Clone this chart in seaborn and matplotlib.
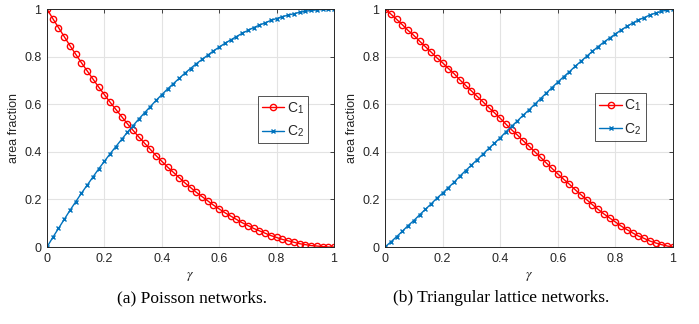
import matplotlib
matplotlib.use("Agg")
import matplotlib.pyplot as plt
import seaborn as sns
import numpy as np
import pandas as pd

sns.set_theme(style="white")
plt.rcParams['font.family'] = ['Liberation Sans', 'DejaVu Sans']
plt.rcParams['mathtext.fontset'] = 'stix'

gamma = [round(0.02 * i, 2) for i in range(51)]

poisson_c1 = [1.000, 0.960, 0.922, 0.884, 0.846, 0.810, 0.774, 0.740, 0.706, 0.672,
              0.640, 0.608, 0.578, 0.548, 0.518, 0.490, 0.462, 0.436, 0.410, 0.384,
              0.360, 0.336, 0.314, 0.292, 0.270, 0.250, 0.230, 0.212, 0.194, 0.176,
              0.160, 0.144, 0.130, 0.116, 0.102, 0.090, 0.078, 0.068, 0.058, 0.048,
              0.040, 0.032, 0.026, 0.020, 0.014, 0.010, 0.006, 0.004, 0.002, 0.000,
              0.000]
poisson_c2 = [0.000, 0.040, 0.078, 0.116, 0.154, 0.190, 0.226, 0.260, 0.294, 0.328,
              0.360, 0.392, 0.422, 0.452, 0.482, 0.510, 0.538, 0.564, 0.590, 0.616,
              0.640, 0.664, 0.686, 0.708, 0.730, 0.750, 0.770, 0.788, 0.806, 0.824,
              0.840, 0.856, 0.870, 0.884, 0.898, 0.910, 0.922, 0.932, 0.942, 0.952,
              0.960, 0.968, 0.974, 0.980, 0.986, 0.990, 0.994, 0.996, 0.998, 1.000,
              1.000]

tri_c1 = [1.000, 0.979, 0.957, 0.934, 0.910, 0.889, 0.865, 0.842, 0.819, 0.795,
          0.774, 0.750, 0.728, 0.702, 0.679, 0.656, 0.633, 0.610, 0.586, 0.564,
          0.541, 0.516, 0.492, 0.470, 0.446, 0.424, 0.400, 0.377, 0.353, 0.330,
          0.307, 0.285, 0.264, 0.241, 0.220, 0.199, 0.178, 0.158, 0.139, 0.122,
          0.105, 0.088, 0.073, 0.059, 0.046, 0.036, 0.025, 0.017, 0.010, 0.004,
          0.000]
tri_c2 = [0.000, 0.021, 0.043, 0.066, 0.090, 0.111, 0.135, 0.158, 0.181, 0.205,
          0.226, 0.250, 0.272, 0.298, 0.321, 0.344, 0.367, 0.390, 0.414, 0.436,
          0.459, 0.484, 0.508, 0.530, 0.554, 0.576, 0.600, 0.623, 0.647, 0.670,
          0.693, 0.715, 0.736, 0.759, 0.780, 0.801, 0.822, 0.842, 0.861, 0.878,
          0.895, 0.912, 0.927, 0.941, 0.954, 0.964, 0.975, 0.983, 0.990, 0.996,
          1.000]

xticks = [0, 0.2, 0.4, 0.6, 0.8, 1]
yticks = [0, 0.2, 0.4, 0.6, 0.8, 1]
xtick_labels = ['0', '0.2', '0.4', '0.6', '0.8', '1']
ytick_labels = ['0', '0.2', '0.4', '0.6', '0.8', '1']
captions = ['(a) Poisson networks.', '(b) Triangular lattice networks.']

RED = '#FF0000'
BLUE = '#0072BD'
TXT = '#262626'

fig = plt.figure(figsize=(6.99, 3.24), dpi=100)
ax1 = fig.add_axes([47/699, 1-247/324, 287/699, 238/324])
ax2 = fig.add_axes([385/699, 1-247/324, 288/699, 238/324])

datasets = [(ax1, poisson_c1, poisson_c2, (0.735, 0.635)),
            (ax2, tri_c1, tri_c2, (0.73, 0.645))]

for ax, c1, c2, legpos in datasets:
    df = pd.DataFrame({'gamma': gamma, 'c1': c1, 'c2': c2})
    sns.lineplot(data=df, x='gamma', y='c1', ax=ax, color=RED, marker='o',
                 markersize=4.5, markerfacecolor='none', markeredgecolor=RED,
                 markeredgewidth=1.0, linewidth=1.0,
                 label='C$_\\mathregular{1}$')
    sns.lineplot(data=df, x='gamma', y='c2', ax=ax, color=BLUE, marker='x',
                 markersize=3.5, markeredgecolor=BLUE, markeredgewidth=1.0,
                 linewidth=1.0, label='C$_\\mathregular{2}$')
    ax.set_xlim(0, 1)
    ax.set_ylim(0, 1)
    ax.set_xticks(xticks)
    ax.set_xticklabels(xtick_labels)
    ax.set_yticks(yticks)
    ax.set_yticklabels(ytick_labels)
    ax.grid(True, color='#E3E3E3', linewidth=0.8)
    ax.set_axisbelow(True)
    ax.tick_params(direction='in', length=3, width=0.6, colors=TXT,
                   labelsize=9, top=True, right=True, pad=4)
    for s in ax.spines.values():
        s.set_color(TXT)
        s.set_linewidth(0.7)
        s.set_visible(True)
    ax.set_xlabel('$\\gamma$', fontsize=10, color=TXT, labelpad=3)
    ax.set_ylabel('area fraction', fontsize=9, color=TXT, labelpad=3)
    leg = ax.legend(loc='upper left', bbox_to_anchor=legpos, fontsize=10,
                    frameon=True, fancybox=False, handlelength=1.6,
                    borderpad=0.3, labelspacing=0.55, handletextpad=0.2,
                    borderaxespad=0)
    leg.get_frame().set_edgecolor(TXT)
    leg.get_frame().set_linewidth(0.7)

fig.text(192/699, 1-298/324, captions[0], ha='center', va='center',
         fontsize=12.5, family='Liberation Serif', color='black')
fig.text(501/699, 1-298/324, captions[1], ha='center', va='center',
         fontsize=12.5, family='Liberation Serif', color='black')

fig.savefig('out.png', dpi=100)
